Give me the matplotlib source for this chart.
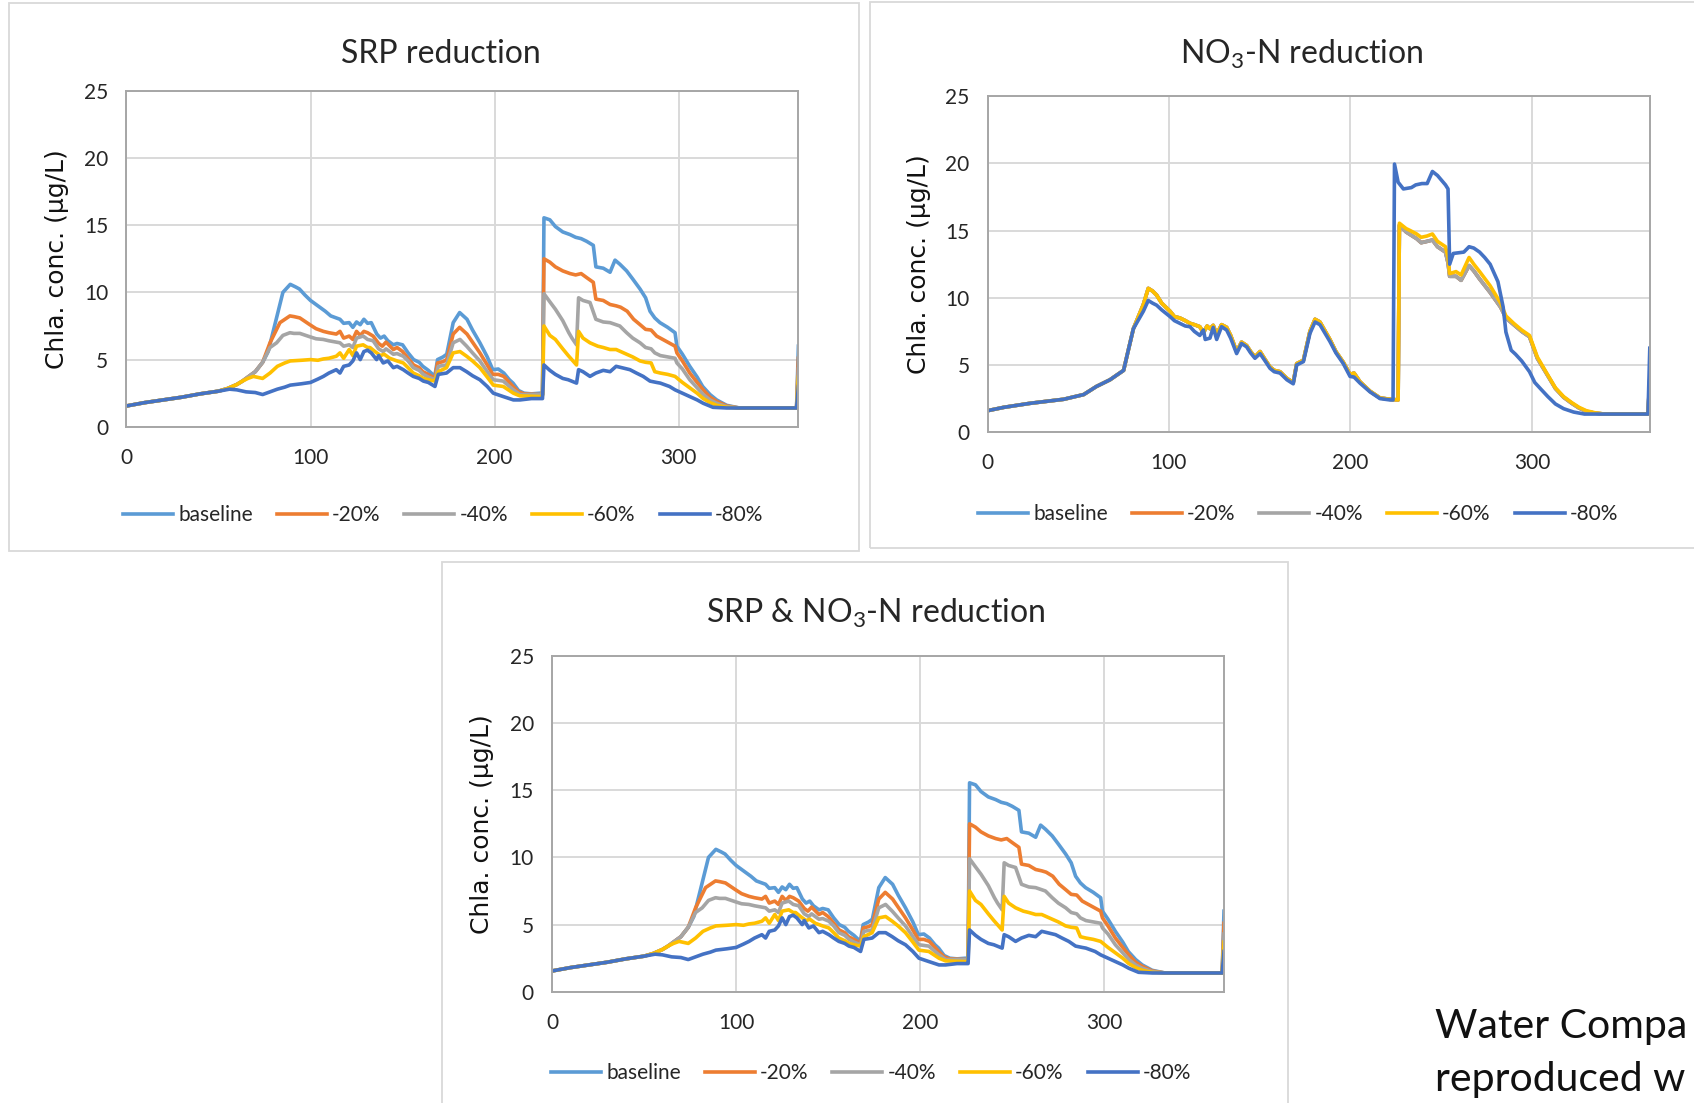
import matplotlib
matplotlib.use("Agg")
import matplotlib.pyplot as plt
from matplotlib.patches import Rectangle

plt.rcParams['font.family'] = ['Lato', 'DejaVu Sans']
plt.rcParams['mathtext.fontset'] = 'custom'
plt.rcParams['mathtext.rm'] = 'Lato'
plt.rcParams['mathtext.it'] = 'Lato:italic'
plt.rcParams['mathtext.bf'] = 'Lato:bold'

# ---------------- data (day of year, Chla µg/L) ----------------
series_labels = ["baseline", "-20%", "-40%", "-60%", "-80%"]
series_colors = ["#5B9BD5", "#ED7D31", "#A5A5A5", "#FFC000", "#4472C4"]
x_ticks = [0, 100, 200, 300]
y_ticks = [0, 5, 10, 15, 20, 25]
titles = ["SRP reduction", "NO$_{\\mathregular{3}}$-N reduction", "SRP & NO$_{\\mathregular{3}}$-N reduction"]
y_label = "Chla. conc. (µg/L)"
note_lines = ["Water Compa", "reproduced w"]

# SRP reduction panel
srp_base_day = [0, 10, 20, 30, 40, 50, 55, 60, 63, 66, 70, 74,
                77, 81, 85, 89, 92, 94, 97, 100, 105, 108, 111, 114,
                116, 118, 121, 123, 125, 127, 129, 131, 133, 136, 138, 140,
                142, 145, 147, 150, 153, 156, 159, 161, 164, 167.5, 169, 172,
                174, 177.5, 181, 185, 188, 192, 196, 199, 202, 205, 208, 210,
                213, 216, 220, 224.7, 226, 226.8, 230, 233, 237, 241, 244, 247,
                250, 253.6, 255, 259, 262.7, 265.4, 268, 271.7, 275, 279, 282, 284.4,
                287, 289.8, 294, 298, 299, 302, 306, 310, 313, 317, 320.6, 326,
                333, 364, 365]
srp_base_val = [1.55, 1.8, 2.0, 2.2, 2.45, 2.65, 2.85, 3.15, 3.4, 3.7, 4.1, 4.8,
                5.6, 7.8, 10.0, 10.6, 10.4, 10.25, 9.8, 9.4, 8.9, 8.6, 8.25, 8.1,
                8.0, 7.7, 7.75, 7.4, 7.8, 7.6, 8.0, 7.7, 7.75, 6.9, 6.6, 6.75,
                6.4, 6.1, 6.2, 6.1, 5.5, 5.0, 4.8, 4.5, 4.2, 3.75, 5.0, 5.2,
                5.4, 7.75, 8.5, 8.0, 7.2, 6.25, 5.2, 4.25, 4.3, 4.0, 3.5, 3.25,
                2.7, 2.5, 2.45, 2.5, 2.4, 15.55, 15.4, 14.9, 14.5, 14.3, 14.1, 14.0,
                13.8, 13.5, 11.9, 11.8, 11.5, 12.4, 12.1, 11.6, 11.0, 10.25, 9.6, 8.6,
                8.1, 7.75, 7.4, 7.0, 6.0, 5.4, 4.5, 3.7, 3.0, 2.4, 2.0, 1.6,
                1.4, 1.4, 6.0]

srp_m20_day = [0, 10, 20, 30, 40, 50, 55, 60, 63, 66, 70, 74,
               78, 83.4, 88.8, 91, 94.2, 99.6, 103, 107, 110, 114, 116, 118,
               121, 123, 125, 127, 129, 131, 134, 137, 139, 141, 145, 147,
               150, 153, 156, 159, 161, 164, 167.5, 169, 172, 174, 177.5, 181,
               185, 188, 192, 196, 199, 202, 205, 208, 210, 213, 216, 224.7,
               226, 226.8, 230, 233, 237, 241, 244, 247, 250, 253.6, 255, 259,
               262.7, 266, 268.4, 272, 275.5, 279, 282, 285, 288, 290, 294, 298,
               299, 302, 306, 310, 313.3, 317, 320.6, 326, 333, 364, 365]
srp_m20_val = [1.55, 1.8, 2.0, 2.2, 2.45, 2.65, 2.85, 3.15, 3.4, 3.7, 4.1, 4.8,
               6.25, 7.75, 8.25, 8.2, 8.1, 7.6, 7.3, 7.1, 7.0, 6.9, 7.1, 6.6,
               6.75, 6.5, 7.1, 6.8, 7.1, 7.0, 6.75, 6.2, 6.0, 6.3, 5.75, 5.9,
               5.6, 5.1, 4.6, 4.4, 4.1, 3.9, 3.6, 4.75, 4.85, 5.0, 6.9, 7.4,
               6.9, 6.3, 5.5, 4.6, 3.9, 3.9, 3.75, 3.3, 3.0, 2.6, 2.45, 2.4,
               2.4, 12.5, 12.25, 11.9, 11.6, 11.4, 11.3, 11.4, 11.1, 10.75, 9.5, 9.4,
               9.1, 9.0, 8.9, 8.6, 8.0, 7.6, 7.25, 7.2, 6.75, 6.6, 6.3, 6.0,
               5.5, 4.9, 4.0, 3.3, 2.75, 2.2, 1.9, 1.55, 1.4, 1.4, 5.1]

srp_m40_day = [0, 10, 20, 30, 40, 50, 55, 60, 63, 66, 70, 74,
               78, 81.6, 85, 88.8, 91, 94.2, 99.6, 103, 106.9, 110, 114, 116,
               118, 121, 123, 125, 128.6, 131, 134, 137, 139.5, 141, 145, 147,
               150.4, 153, 155.8, 159, 161.3, 164, 167.6, 169.4, 173.9, 177.5, 181.2, 184.8,
               188, 192, 196, 199.3, 204.7, 208, 210.2, 213.8, 224.7, 226, 226.8, 230,
               233, 237, 240.3, 242, 244.5, 245.6, 248, 251.8, 255, 259, 262.7, 268,
               271.7, 275, 279, 282, 285, 287, 290, 294, 298, 299, 302, 306,
               310, 313.3, 317, 320.6, 326, 333, 364, 365]
srp_m40_val = [1.55, 1.8, 2.0, 2.2, 2.45, 2.65, 2.85, 3.15, 3.4, 3.7, 4.1, 4.8,
               5.9, 6.25, 6.8, 7.0, 6.95, 6.95, 6.7, 6.55, 6.5, 6.4, 6.3, 6.25,
               6.0, 6.1, 5.9, 6.6, 6.75, 6.5, 6.4, 5.8, 5.6, 5.8, 5.4, 5.45,
               5.25, 4.9, 4.4, 4.2, 3.9, 3.7, 3.5, 4.5, 4.6, 6.25, 6.5, 6.0,
               5.5, 4.9, 4.1, 3.5, 3.4, 3.0, 2.75, 2.4, 2.4, 2.4, 9.9, 9.3,
               8.75, 7.9, 7.0, 6.6, 6.1, 9.6, 9.4, 9.25, 8.0, 7.8, 7.75, 7.5,
               7.0, 6.6, 6.25, 5.9, 5.8, 5.5, 5.3, 5.2, 5.1, 4.75, 4.3, 3.5,
               2.9, 2.4, 2.0, 1.75, 1.5, 1.4, 1.4, 4.3]

srp_m60_day = [0, 10, 20, 30, 40, 50, 55, 60, 63, 66, 69, 74,
               78, 82, 86, 89, 95, 100, 104, 107, 110, 114, 116, 118,
               121, 123, 125, 128.6, 131, 132.3, 135, 138, 140, 143, 147, 150.4,
               153, 155.8, 159, 161.3, 164, 167.6, 169.4, 173.9, 177.5, 181.2, 184.8, 188,
               192, 196, 199.3, 204.7, 208, 210.2, 213.8, 224.7, 226, 226.8, 230, 233,
               237, 240, 244.5, 245.6, 248, 251.8, 256, 259, 262.7, 266, 271.7, 275,
               279, 282, 285, 287, 290, 294, 298, 302, 306, 310, 313.3, 317,
               320.6, 326, 333, 364, 365]
srp_m60_val = [1.55, 1.8, 2.0, 2.2, 2.45, 2.65, 2.85, 3.15, 3.4, 3.6, 3.75, 3.6,
               4.0, 4.5, 4.75, 4.9, 4.95, 5.0, 4.95, 5.05, 5.1, 5.25, 5.5, 5.1,
               5.75, 5.3, 6.0, 6.1, 5.9, 5.9, 5.6, 5.3, 5.4, 5.1, 4.9, 4.75,
               4.4, 4.0, 3.8, 3.6, 3.5, 3.4, 4.1, 4.4, 5.5, 5.6, 5.25, 4.9,
               4.4, 3.7, 3.1, 3.0, 2.7, 2.5, 2.3, 2.25, 2.3, 7.5, 6.8, 6.5,
               5.8, 5.3, 4.6, 7.1, 6.6, 6.25, 6.0, 5.9, 5.75, 5.75, 5.4, 5.2,
               4.9, 4.8, 4.75, 4.1, 4.0, 3.9, 3.75, 3.3, 2.9, 2.5, 2.1, 1.8,
               1.6, 1.45, 1.4, 1.4, 3.7]

srp_m80_day = [0, 10, 20, 30, 40, 50, 52, 56, 60, 65, 70, 74,
               78, 82, 86, 89, 95, 100, 104, 107, 110, 114, 116, 118,
               121, 123, 125, 127, 129, 131, 133, 135.9, 137, 139.5, 142, 145,
               147, 150.4, 153, 155.8, 159, 161.3, 164, 167.6, 169.4, 173.9, 177.5, 181.2,
               184.8, 188, 192, 196, 199.3, 204.7, 208, 210.2, 213.8, 220, 224.7, 226,
               226.8, 230, 233, 237, 240, 244.5, 245.6, 248, 251.8, 255, 259, 262.7,
               266, 269, 273.5, 277, 280.7, 284.4, 288, 290, 295, 298, 302, 306,
               310, 313.3, 318.6, 326, 364, 365]
srp_m80_val = [1.55, 1.8, 2.0, 2.2, 2.45, 2.65, 2.7, 2.8, 2.75, 2.6, 2.55, 2.4,
               2.6, 2.8, 2.95, 3.1, 3.2, 3.3, 3.55, 3.75, 4.0, 4.25, 4.0, 4.5,
               4.6, 4.9, 5.5, 5.0, 5.6, 5.7, 5.5, 5.0, 5.3, 4.75, 4.9, 4.4,
               4.5, 4.25, 4.0, 3.75, 3.6, 3.4, 3.3, 3.0, 3.9, 4.0, 4.4, 4.4,
               4.1, 3.8, 3.5, 3.0, 2.5, 2.25, 2.1, 2.0, 2.0, 2.1, 2.1, 2.1,
               4.6, 4.2, 3.9, 3.6, 3.5, 3.25, 4.25, 4.1, 3.75, 4.0, 4.2, 4.1,
               4.5, 4.4, 4.25, 4.0, 3.75, 3.4, 3.3, 3.25, 3.0, 2.75, 2.5, 2.25,
               2.0, 1.75, 1.45, 1.4, 1.4, 3.0]

# NO3-N reduction panel
no3_pre_day = [0, 9, 23.5, 42, 53, 60, 67.5, 75, 77.6, 80.4, 85.9, 88.6,
               91, 93.2, 96, 100.6, 103, 106, 109, 111.6, 114, 117, 119, 121,
               122.6, 124.4, 126.3, 129, 131.8, 134, 137.3, 140, 142.8, 145, 147.4, 150.2,
               153, 155.7, 158, 161.2, 165, 168.5, 170.4, 174.1, 177.7, 180.5, 183.2, 188.7,
               192, 196.1, 199.8, 202, 205.3, 210.8, 216.3, 221.8, 226.3]
no3_pre_val = [1.6, 1.85, 2.15, 2.45, 2.8, 3.4, 3.9, 4.6, 6.1, 7.7, 9.5, 10.7,
               10.5, 10.2, 9.6, 9.0, 8.6, 8.5, 8.3, 8.1, 8.0, 7.85, 7.4, 7.9,
               7.7, 7.95, 7.3, 8.0, 7.8, 7.2, 6.0, 6.7, 6.45, 6.0, 5.6, 6.0,
               5.4, 4.85, 4.6, 4.5, 4.0, 3.7, 5.1, 5.35, 7.5, 8.4, 8.2, 6.9,
               6.0, 5.2, 4.3, 4.4, 3.75, 3.05, 2.55, 2.45, 2.4]
no3_post_day = [227, 230.7, 233, 236.5, 239, 242.3, 245.2, 248, 252.4, 253.8, 254.7, 258.2,
                261, 265.4, 268, 271.2, 277, 282.8, 285.7, 290, 294.4, 298.7, 303, 308.8,
                313, 317.5, 322, 326, 330, 334.7, 340, 364, 365]
no3_m60_post_val = [15.55, 15.15, 15.0, 14.75, 14.5, 14.6, 14.75, 14.2, 13.8, 13.0, 11.8, 11.95,
                    11.7, 13.0, 12.5, 11.95, 10.9, 9.6, 8.65, 8.1, 7.6, 7.2, 5.6, 4.25,
                    3.3, 2.65, 2.2, 1.85, 1.6, 1.45, 1.35, 1.35, 4.0]
no3_m40_post_val = [15.4, 14.9, 14.7, 14.4, 14.1, 14.2, 14.3, 13.8, 13.4, 12.6, 11.6, 11.6,
                    11.3, 12.4, 12.0, 11.4, 10.4, 9.3, 8.5, 8.0, 7.5, 7.1, 5.5, 4.2,
                    3.25, 2.6, 2.15, 1.8, 1.55, 1.42, 1.35, 1.35, 4.0]
no3_base_post_val = [15.4, 14.9, 14.7, 14.4, 14.1, 14.2, 14.3, 13.8, 13.4, 12.6, 11.6, 11.6,
                     11.3, 12.4, 12.0, 11.4, 10.4, 9.3, 8.5, 8.0, 7.5, 7.1, 5.5, 4.2,
                     3.25, 2.6, 2.15, 1.8, 1.55, 1.42, 1.35, 1.35, 4.0]
no3_m20_post_val = [15.4, 14.9, 14.7, 14.4, 14.1, 14.2, 14.3, 13.8, 13.4, 12.6, 11.6, 11.6,
                    11.3, 12.4, 12.0, 11.4, 10.4, 9.3, 8.5, 8.0, 7.5, 7.1, 5.5, 4.2,
                    3.25, 2.6, 2.15, 1.8, 1.55, 1.42, 1.35, 1.35, 4.0]
no3_m80_day = [0, 9, 23.5, 42, 53, 60, 67.5, 75, 77.6, 80.4, 85.9, 88.6,
               91, 93.2, 96, 100.6, 103, 106, 109, 111.6, 114, 117, 119, 120,
               122.6, 124.4, 126.3, 129, 131.8, 134, 137.3, 140, 142.8, 145, 147.4, 150.2,
               153, 155.7, 158, 161.2, 165, 168.5, 170.4, 174.1, 177.7, 180.5, 183.2, 188.7,
               192, 196.1, 199.8, 202, 205.3, 210.8, 216.3, 221.8, 223.5, 224.3, 226.3, 229.2,
               233.6, 236, 239.4, 242.3, 245.2, 248, 252.4, 253.8, 254.7, 256.7, 262.5, 265.4,
               268, 271.2, 274, 277, 281.3, 284.2, 285.7, 288.6, 291, 294.4, 298.7, 301.6,
               305, 308.8, 313, 317.5, 323, 329, 364, 365]
no3_m80_val = [1.6, 1.85, 2.15, 2.45, 2.8, 3.4, 3.9, 4.6, 6.1, 7.7, 9.0, 9.8,
               9.6, 9.45, 9.1, 8.6, 8.3, 8.1, 7.9, 7.85, 7.5, 7.2, 7.6, 6.9,
               7.0, 7.8, 6.9, 7.85, 7.6, 7.0, 5.85, 6.6, 6.35, 5.9, 5.5, 5.85,
               5.3, 4.75, 4.5, 4.4, 3.9, 3.6, 5.0, 5.25, 7.35, 8.2, 8.0, 6.75,
               5.9, 5.1, 4.15, 4.1, 3.65, 3.0, 2.5, 2.4, 2.4, 19.95, 18.6, 18.1,
               18.2, 18.4, 18.5, 18.5, 19.4, 19.1, 18.4, 18.1, 12.5, 13.3, 13.4, 13.8,
               13.7, 13.4, 13.0, 12.5, 11.2, 9.3, 7.45, 6.1, 5.8, 5.3, 4.5, 3.7,
               3.2, 2.65, 2.1, 1.75, 1.5, 1.35, 1.35, 6.25]

# SRP & NO3-N reduction panel (same simulated curves as SRP reduction)
both_base_day, both_base_val = srp_base_day, srp_base_val
both_m20_day, both_m20_val = srp_m20_day, srp_m20_val
both_m40_day, both_m40_val = srp_m40_day, srp_m40_val
both_m60_day, both_m60_val = srp_m60_day, srp_m60_val
both_m80_day, both_m80_val = srp_m80_day, srp_m80_val

panel_srp = [(srp_base_day, srp_base_val), (srp_m20_day, srp_m20_val),
             (srp_m40_day, srp_m40_val), (srp_m60_day, srp_m60_val),
             (srp_m80_day, srp_m80_val)]
panel_no3 = [(no3_pre_day + no3_post_day, no3_pre_val + no3_base_post_val),
             (no3_pre_day + no3_post_day, no3_pre_val + no3_m20_post_val),
             (no3_pre_day + no3_post_day, no3_pre_val + no3_m40_post_val),
             (no3_pre_day + no3_post_day, no3_pre_val + no3_m60_post_val),
             (no3_m80_day, no3_m80_val)]
panel_both = [(both_base_day, both_base_val), (both_m20_day, both_m20_val),
              (both_m40_day, both_m40_val), (both_m60_day, both_m60_val),
              (both_m80_day, both_m80_val)]

for p in (panel_srp, panel_no3, panel_both):
    for d, v in p:
        assert len(d) == len(v), (len(d), len(v))

# ---------------- layout ----------------
W, H = 1694, 1103
fig = plt.figure(figsize=(W / 100, H / 100), dpi=100)
fig.patch.set_facecolor("white")


def frect(x0, y0, x1, y1):
    return [x0 / W, 1 - y1 / H, (x1 - x0) / W, (y1 - y0) / H]


def box(x0, y0, x1, y1):
    fig.add_artist(Rectangle((x0 / W, 1 - y1 / H), (x1 - x0) / W, (y1 - y0) / H,
                             transform=fig.transFigure, fill=False,
                             ec="#D9D9D9", lw=1.3, zorder=0))


def panel(ax_px, data, title, title_px, legend_px):
    ax = fig.add_axes(frect(*ax_px))
    handles = []
    for (d, v), c, lab in zip(data, series_colors, series_labels):
        ln, = ax.plot(d, v, color=c, lw=2.6, label=lab, solid_joinstyle="round")
        handles.append(ln)
    ax.set_xlim(0, 365)
    ax.set_ylim(0, 25)
    ax.set_xticks(x_ticks)
    ax.set_yticks(y_ticks)
    ax.grid(True, color="#D9D9D9", lw=1.4)
    ax.set_axisbelow(True)
    for s in ax.spines.values():
        s.set_color("#A6A6A6")
        s.set_linewidth(1.4)
    ax.tick_params(length=0, labelsize=15, labelcolor="#262626")
    ax.tick_params(axis="y", pad=13)
    ax.tick_params(axis="x", pad=15)
    ax.set_ylabel(y_label, family=["DejaVu Sans"], fontsize=18, color="#111111")
    ax.yaxis.set_label_coords(-0.086, 0.5)
    fig.text(title_px[0] / W, 1 - title_px[1] / H, title, ha="center", va="center",
             fontsize=23, color="#262626")
    fig.legend(handles=handles, loc="center",
               bbox_to_anchor=(legend_px[0] / W, 1 - legend_px[1] / H),
               ncol=5, frameon=False, fontsize=15, handlelength=2.4,
               handletextpad=0.25, columnspacing=1.15, borderaxespad=0,
               labelcolor="#262626")
    return ax


box(8.6, 3.2, 859, 551)
box(869.7, 2.0, 1720, 548)
box(442, 562, 1288, 1130)

panel((126.4, 90.8, 798.4, 426.8), panel_srp, titles[0], (441, 54), (443, 515))
panel((987.5, 96.2, 1649.8, 432.2), panel_no3, titles[1], (1302, 54), (1298, 514))
panel((552, 655.8, 1224, 991.8), panel_both, titles[2], (876, 613), (871, 1073))

fig.text(1435 / W, 1 - 1038 / H, note_lines[0], ha="left", va="baseline",
         fontsize=29.5, color="#111111")
fig.text(1435 / W, 1 - 1091 / H, note_lines[1], ha="left", va="baseline",
         fontsize=29.5, color="#111111")

fig.savefig("out.png", dpi=100, facecolor="white")
